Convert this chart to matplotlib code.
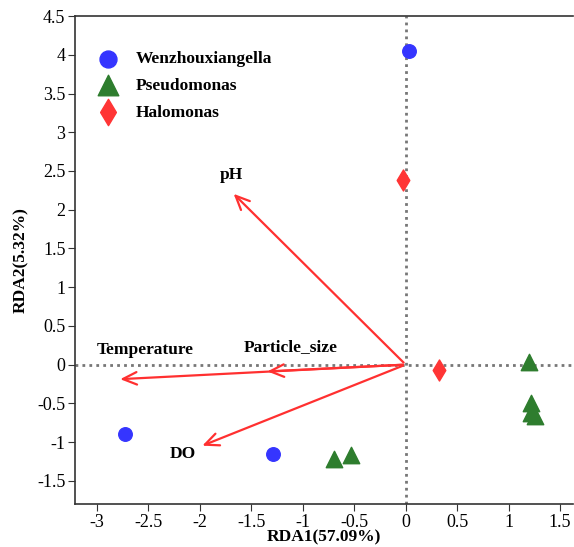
import matplotlib.pyplot as plt

plt.rcParams["font.family"] = ["Liberation Serif", "DejaVu Serif"]

# sample scores
wen_x = [0.03, -2.73, -1.29]
wen_y = [4.05, -0.90, -1.15]
pse_x = [1.20, 1.22, 1.22, 1.26, -0.70, -0.53]
pse_y = [0.03, -0.50, -0.63, -0.67, -1.22, -1.17]
hal_x = [-0.03, 0.32]
hal_y = [2.38, -0.07]

# environmental arrows
env_names = ["pH", "Temperature", "Particle_size", "DO"]
env_x = [-1.69, -2.80, -1.37, -2.00]
env_y = [2.23, -0.19, -0.09, -1.06]
label_x = [-1.69, -2.53, -1.12, -2.16]
label_y = [2.45, 0.19, 0.22, -1.16]

fig = plt.figure(figsize=(5.74, 5.47), dpi=100)
ax = fig.add_axes([0.131, 0.0786, 0.868, 0.892])

ax.axhline(0, color="#777777", ls=(0, (1, 1.5)), lw=2, zorder=1)
ax.axvline(0, color="#777777", ls=(0, (1, 1.5)), lw=2, zorder=1)

for x, y in zip(env_x, env_y):
    ax.annotate("", xy=(x, y), xytext=(0, 0),
                arrowprops=dict(arrowstyle="->,head_length=1.0,head_width=0.45",
                                color="#ff3030", lw=1.6), zorder=2)
for name, x, y in zip(env_names, label_x, label_y):
    ax.text(x, y, name, ha="center", va="center", fontsize=12.5, fontweight="bold")

ax.scatter(wen_x, wen_y, s=95, marker="o", color="#3535ff", label="Wenzhouxiangella", zorder=3)
ax.scatter(pse_x, pse_y, s=140, marker="^", color="#2e7d2e", label="Pseudomonas", zorder=3)
ax.scatter(hal_x, hal_y, s=115, marker="d", color="#ff3535", label="Halomonas", zorder=3)

ax.set_xlim(-3.21, 1.63)
ax.set_ylim(-1.8, 4.5)
ax.set_xticks([-3, -2.5, -2, -1.5, -1, -0.5, 0, 0.5, 1, 1.5])
ax.set_xticklabels(["-3", "-2.5", "-2", "-1.5", "-1", "-0.5", "0", "0.5", "1", "1.5"])
ax.set_yticks([-1.5, -1, -0.5, 0, 0.5, 1, 1.5, 2, 2.5, 3, 3.5, 4, 4.5])
ax.set_yticklabels(["-1.5", "-1", "-0.5", "0", "0.5", "1", "1.5", "2", "2.5", "3", "3.5", "4", "4.5"])
ax.tick_params(labelsize=13, direction="out", length=5, color="#333333", pad=2)
ax.spines["right"].set_visible(False)
for s in ["left", "bottom", "top"]:
    ax.spines[s].set_color("#333333")
    ax.spines[s].set_linewidth(1.2)
ax.set_xlabel("RDA1(57.09%)", fontsize=12.5, fontweight="bold", labelpad=-1)
ax.set_ylabel("RDA2(5.32%)", fontsize=12.5, fontweight="bold", labelpad=6)

ax.legend(loc="upper left", bbox_to_anchor=(0.0, 0.96), frameon=False,
          prop={"weight": "bold", "size": 12.5}, handletextpad=0.6,
          labelspacing=0.6, markerscale=1.25)

fig.savefig("out.png", dpi=100)
